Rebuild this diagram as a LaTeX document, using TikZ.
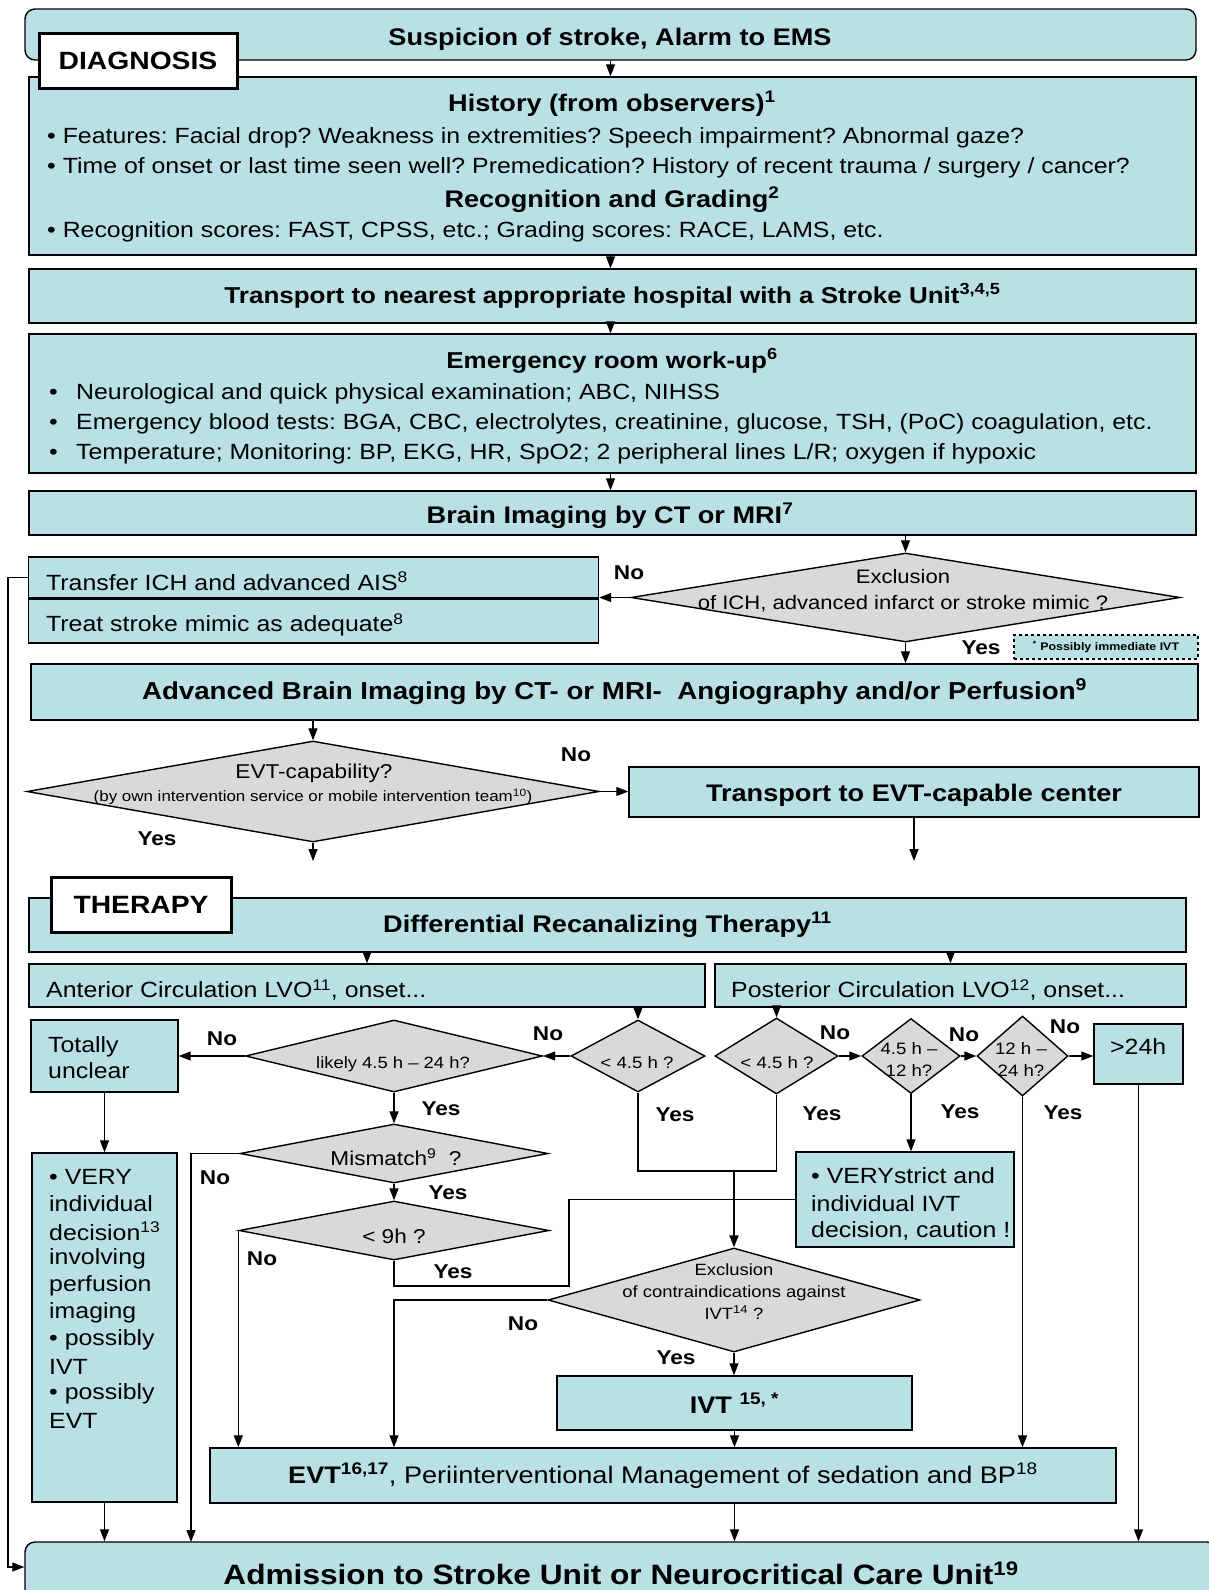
\documentclass[tikz,border=0pt]{standalone}
\usepackage{fontspec}
\setmainfont{Liberation Sans}[FakeStretch=1.13]
\usetikzlibrary{positioning,arrows.meta,shapes.geometric}
\definecolor{boxblue}{RGB}{185,224,228}
\definecolor{decgrey}{RGB}{217,217,217}
\frenchspacing

\begin{document}
\begin{tikzpicture}[x=1pt,y=-1pt,>={Triangle[length=12pt,width=9pt]},
  box/.style={draw=black,fill=boxblue,line width=1.4pt,inner sep=0pt},
  decision/.style={diamond,draw=black,fill=decgrey,line width=1.4pt,inner sep=0pt},
  tagbox/.style={draw=black,fill=white,line width=3pt,inner sep=0pt,font=\fontsize{25}{30}\selectfont\bfseries},
  ttl/.style={font=\fontsize{24}{29}\selectfont\bfseries},
  txt/.style={anchor=west,inner sep=0pt,align=left,font=\fontsize{22}{26}\selectfont},
  dtxt/.style={inner sep=0pt,align=center},
  yn/.style={inner sep=0pt,font=\fontsize{20}{24}\selectfont\bfseries},
  conn/.style={line width=1.3pt}]
\useasboundingbox (0,0) rectangle (1208,1590);

% diagnosis
\node[box,rounded corners=10pt,minimum width=1171pt,minimum height=51pt] (susp) at (610.5,34.5) {};
\node[ttl] (suspT) at (610,39.5) {Suspicion of stroke, Alarm to EMS};
\node[box,minimum width=1167pt,minimum height=178pt] (hist) at (612.5,166) {};
\node[tagbox,minimum width=198pt,minimum height=55pt] (diag) at (138,60.5) {DIAGNOSIS};
\node[ttl] (histT) at (612,104) {History (from observers)\textsuperscript{1}};
\node[txt] (histA) at (47,138) {• Features: Facial drop? Weakness in extremities? Speech impairment? Abnormal gaze?};
\node[txt] (histB) at (47,168) {• Time of onset or last time seen well? Premedication? History of recent trauma / surgery / cancer?};
\node[ttl] (recT) at (612,200) {Recognition and Grading\textsuperscript{2}};
\node[txt] (recA) at (47,232) {• Recognition scores: FAST, CPSS, etc.; Grading scores: RACE, LAMS, etc.};

\node[box,minimum width=1167pt,minimum height=54pt,font=\fontsize{23}{28}\selectfont\bfseries] (trans) at (612.5,296) {Transport to nearest appropriate hospital with a Stroke Unit\textsuperscript{3,4,5}};

\node[box,minimum width=1167pt,minimum height=139pt] (er) at (612.5,403.5) {};
\node[font=\fontsize{23}{28}\selectfont\bfseries] (erT) at (612,361) {Emergency room work-up\textsuperscript{6}};
\foreach \t [count=\i] in {{Neurological and quick physical examination; ABC, NIHSS},
    {Emergency blood tests: BGA, CBC, electrolytes, creatinine, glucose, TSH, (PoC) coagulation, etc.},
    {Temperature; Monitoring: BP, EKG, HR, SpO2; 2 peripheral lines L/R; oxygen if hypoxic}}
  \node[txt] (er\i) at (49,{394+29.8*(\i-1)}) {\makebox[27pt][l]{•}\t};

\node[box,minimum width=1167pt,minimum height=44pt] (brain) at (612.5,513) {};
\node[ttl] (brainT) at (610,516) {Brain Imaging by CT or MRI\textsuperscript{7}};

\node[decision,minimum width=549pt,minimum height=89pt] (excl) at (905.5,597.5) {};
\node[dtxt,font=\fontsize{19.5}{26}\selectfont] (exclT) at (903,591) {Exclusion\\of ICH, advanced infarct or stroke mimic ?};

\node[box,minimum width=570pt,minimum height=41pt] (transfer) at (313.5,577.5) {};
\node[box,minimum width=570pt,minimum height=45pt] (treat) at (313.5,620.5) {};
\draw[line width=2.8pt] (transfer.south west) -- (transfer.south east);
\node[txt] (transferT) at (46,581) {Transfer ICH and advanced AIS\textsuperscript{8}};
\node[txt] (treatT) at (46,625) {Treat stroke mimic as adequate\textsuperscript{8}};

\node[box,dashed,line width=1.6pt,minimum width=184pt,minimum height=24pt,font=\fontsize{11}{13}\selectfont\bfseries] (possib) at (1106,647) {\textsuperscript{*} Possibly immediate IVT};

\node[box,minimum width=1167pt,minimum height=56pt,font=\fontsize{24.5}{29}\selectfont\bfseries] (adv) at (614.5,692) {Advanced Brain Imaging by CT- or MRI-\ \ Angiography and/or Perfusion\textsuperscript{9}};

\node[decision,minimum width=572pt,minimum height=101pt] (evtcap) at (313,791.5) {};
\node[dtxt,font=\fontsize{20}{24}\selectfont] (evtcapT) at (314,773) {EVT-capability?};
\node[dtxt,font=\fontsize{15}{18}\selectfont] (evtcapS) at (313,797) {(by own intervention service or mobile intervention team\textsuperscript{10})};

\node[box,minimum width=570pt,minimum height=50pt] (tevt) at (914,792) {};
\node[ttl] (tevtT) at (914,795) {Transport to EVT-capable center};
\coordinate (capend) at (313,861);
\coordinate (tevtend) at (914,861);

% therapy
\node[box,ttl,minimum width=1157pt,minimum height=54pt] (diff) at (607.5,925) {Differential Recanalizing Therapy\textsuperscript{11}};
\node[tagbox,minimum width=180pt,minimum height=55pt] (ther) at (141,904.5) {THERAPY};

\node[box,minimum width=676pt,minimum height=43pt] (ant) at (367,985.5) {};
\node[txt] (antT) at (46,990) {Anterior Circulation LVO\textsuperscript{11}, onset...};
\node[box,minimum width=471pt,minimum height=43pt] (post) at (950.5,985.5) {};
\node[txt] (postT) at (731,990) {Posterior Circulation LVO\textsuperscript{12}, onset...};

\node[box,minimum width=147pt,minimum height=72pt] (unclear) at (104.5,1056) {};
\node[txt] (unclearT) at (48,1058) {Totally\\unclear};
\node[decision,minimum width=297pt,minimum height=72pt] (likely) at (394,1056) {};
\node[dtxt,font=\fontsize{16.3}{20}\selectfont] (likelyT) at (393,1064) {likely 4.5 h – 24 h?};
\node[decision,minimum width=134pt,minimum height=72pt] (antlt) at (638,1056) {};
\node[dtxt,font=\fontsize{16.5}{20}\selectfont] (antltT) at (637,1063) {< 4.5 h ?};
\node[decision,minimum width=123pt,minimum height=76pt] (postlt) at (776.5,1056) {};
\node[dtxt,font=\fontsize{16.5}{20}\selectfont] (postltT) at (777,1063) {< 4.5 h ?};
\node[decision,minimum width=98pt,minimum height=75pt] (postmid) at (911,1056) {};
\node[dtxt,font=\fontsize{16.5}{22}\selectfont] (postmidT) at (909,1060) {4.5 h –\\12 h?};
\node[decision,minimum width=91pt,minimum height=80pt] (postlate) at (1022.5,1056) {};
\node[dtxt,font=\fontsize{16.5}{22}\selectfont] (postlateT) at (1021,1060) {12 h –\\24 h?};
\node[box,minimum width=89pt,minimum height=60pt] (over) at (1138.5,1054) {};
\node[txt] (overT) at (1110,1047) {>24h};

\node[decision,minimum width=308pt,minimum height=59pt] (mism) at (394,1153.5) {};
\node[dtxt,font=\fontsize{20}{24}\selectfont] (mismT) at (396,1157) {Mismatch\textsuperscript{9}\ \ ?};
\node[decision,minimum width=310pt,minimum height=59pt] (nine) at (394,1230.5) {};
\node[dtxt,font=\fontsize{20}{24}\selectfont] (nineT) at (394,1236) {< 9h ?};

\node[box,minimum width=145pt,minimum height=349pt] (indiv) at (104.5,1327.5) {};
\foreach \t [count=\i] in {• VERY, individual, decision\textsuperscript{13}, involving, perfusion, imaging, • possibly, IVT, • possibly, EVT}
  \node[txt] (indiv\i) at (49,{1177+27.1*(\i-1)}) {\t};

\node[box,minimum width=218pt,minimum height=95pt] (strict) at (905,1199.5) {};
\foreach \t [count=\i] in {• VERYstrict and, individual IVT, {decision, caution !}}
  \node[txt] (strict\i) at (811,{1176+27.5*(\i-1)}) {\t};

\node[decision,minimum width=372pt,minimum height=104pt] (contra) at (734,1300) {};
\node[dtxt,font=\fontsize{16.3}{22}\selectfont] (contraT) at (734,1292) {Exclusion\\of contraindications against\\IVT\textsuperscript{14} ?};

\node[box,ttl,minimum width=355pt,minimum height=54pt] (ivt) at (734.5,1403) {IVT \textsuperscript{15, *}};
\node[box,minimum width=906pt,minimum height=55pt,font=\fontsize{24}{29}\selectfont] (evt) at (663,1475.5) {\textbf{EVT\textsuperscript{16,17}}, Periinterventional Management of sedation and BP\textsuperscript{18}};
\node[box,rounded corners=10pt,minimum width=1192pt,minimum height=62pt,font=\fontsize{28}{34}\selectfont\bfseries] (adm) at (621,1573) {Admission to Stroke Unit or Neurocritical Care Unit\textsuperscript{19}};

% connectors
\draw[conn,->] (susp.south) -- (susp.south |- hist.north);
\draw[conn,->] (susp.south |- hist.south) -- (susp.south |- trans.north);
\draw[conn,->] (susp.south |- trans.south) -- (susp.south |- er.north);
\draw[conn,->] (susp.south |- er.south) -- (susp.south |- brain.north);
\draw[conn,->] (excl.north |- brain.south) -- (excl.north);
\draw[conn,->] (excl.west) -- (excl.west -| transfer.east);
\draw[conn,->] (excl.south) -- (excl.south |- adv.north);
\coordinate (loop) at (8,1567);
\draw[conn,->] (transfer.west) -| (loop) -- (loop -| adm.west);
\draw[conn,->] (evtcap.north |- adv.south) -- (evtcap.north);
\draw[conn,->] (evtcap.east) -- (evtcap.east -| tevt.west);
\draw[conn,->] (evtcap.south) -- (capend);
\draw[conn,->] (tevt.south) -- (tevtend);
\draw[conn,->] (ant.north |- diff.south) -- (ant.north);
\draw[conn,->] (post.north |- diff.south) -- (post.north);
\draw[conn,->] (antlt.north |- ant.south) -- (antlt.north);
\draw[conn,->] (postlt.north |- post.south) -- (postlt.north);
\draw[conn,->] (antlt.west) -- (likely.east);
\draw[conn,->] (likely.west) -- (unclear.east);
\draw[conn,->] (postlt.east) -- (postmid.west);
\draw[conn,->] (postmid.east) -- (postlate.west);
\draw[conn,->] (postlate.east) -- (postlate.east -| over.west);
\draw[conn,->] (likely.south) -- (mism.north);
\draw[conn,->] (mism.south) -- (nine.north);
\draw[conn,->] (unclear.south) -- (indiv.north);
\coordinate (mmno) at (191,1542);
\draw[conn,->] (mism.west) -| (mmno);
\draw[conn,->] (nine.west) -- (nine.west |- evt.north);
\coordinate (nineyes) at (569,1286);
\draw[conn] (nine.south) |- (nineyes) |- (strict.west);
\coordinate (join) at (734,1171);
\draw[conn] (antlt.south) |- (join) -| (postlt.south);
\draw[line width=2pt,->] (join) -- (contra.north);
\draw[conn,->] (postmid.south) -- (postmid.south |- strict.north);
\draw[conn,->] (postlate.south) -- (postlate.south |- evt.north);
\draw[conn,->] (over.south) -- (over.south |- adm.north);
\draw[conn,->] (contra.west) -| (nine.south |- evt.north);
\draw[conn,->] (contra.south) -- (contra.south |- ivt.north);
\draw[conn,->] (ivt.south) -- (ivt.south |- evt.north);
\draw[conn,->] (indiv.south) -- (indiv.south |- adm.north);
\draw[conn,->] (ivt.south |- evt.south) -- (ivt.south |- adm.north);

% yes / no
\node[yn] (excNo) at (629,573) {No};
\node[yn] (excYes) at (981,648) {Yes};
\node[yn] (capNo) at (576,755) {No};
\node[yn] (capYes) at (157,839) {Yes};
\node[yn] (likNo) at (222,1039) {No};
\node[yn] (antNo) at (548,1034) {No};
\node[yn] (likYes) at (441,1109) {Yes};
\node[yn] (antYes) at (675,1115) {Yes};
\node[yn] (postNo) at (835,1033) {No};
\node[yn] (postYes) at (822,1114) {Yes};
\node[yn] (midNo) at (964,1035) {No};
\node[yn] (midYes) at (960,1112) {Yes};
\node[yn] (lateNo) at (1065,1027) {No};
\node[yn] (lateYes) at (1063,1113) {Yes};
\node[yn] (mismNo) at (215,1178) {No};
\node[yn] (mismYes) at (448,1193) {Yes};
\node[yn] (nineNo) at (262,1259) {No};
\node[yn] (nineYes) at (453,1272) {Yes};
\node[yn] (contraNo) at (523,1324) {No};
\node[yn] (contraYes) at (676,1358) {Yes};
\end{tikzpicture}
\end{document}
